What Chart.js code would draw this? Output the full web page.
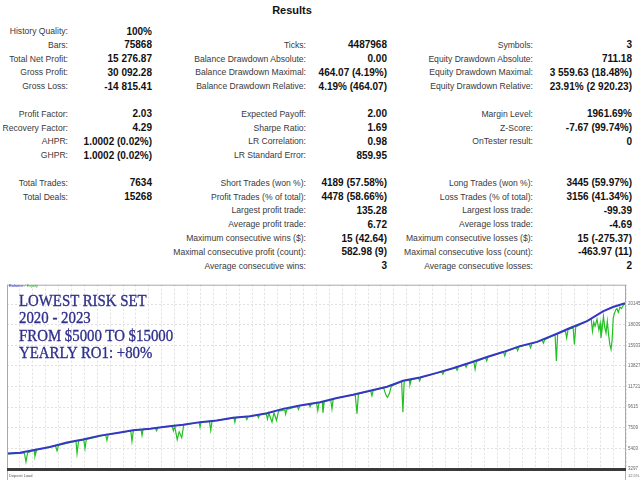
<!DOCTYPE html>
<html>
<head>
<meta charset="utf-8">
<script src="https://cdn.jsdelivr.net/npm/chart.js@4.4.1/dist/chart.umd.min.js"></script>
<style>
  html,body{margin:0;padding:0;background:#fff;}
  #page{position:relative;width:640px;height:480px;overflow:hidden;background:#fff;}
  .lab{position:absolute;font-family:"Liberation Sans",Arial,sans-serif;font-size:8.6px;color:#3a3a3a;white-space:nowrap;line-height:11px;text-align:right;}
  .val{position:absolute;font-family:"Liberation Sans",Arial,sans-serif;font-size:10px;font-weight:bold;color:#111;white-space:nowrap;line-height:11px;text-align:right;}
  #title{position:absolute;left:0;width:584px;top:4px;text-align:center;font-family:"Liberation Sans",Arial,sans-serif;font-weight:bold;font-size:11px;color:#111;}
  #chartBox{position:absolute;left:0;top:280px;width:640px;height:200px;}
  .ov{position:absolute;left:19px;font-family:"Liberation Serif","Times New Roman",serif;font-size:16.5px;color:#30308c;white-space:nowrap;line-height:16.5px;transform:scaleX(0.9);transform-origin:left top;-webkit-text-stroke:0.35px #30308c;}
  #legend{position:absolute;left:9px;top:283px;font-family:"Liberation Sans",Arial,sans-serif;font-size:4px;line-height:5px;white-space:nowrap;}
  #dep{position:absolute;left:9px;top:473px;font-family:"Liberation Sans",Arial,sans-serif;font-size:4px;line-height:5px;color:#555;white-space:nowrap;}
</style>
</head>
<body>
<div id="page">
  <div id="title">Results</div>
  <div id="chartBox"><canvas id="c" width="640" height="200"></canvas></div>
  <div id="legend"><span style="color:#3232c8">Balance</span><span style="color:#888"> / </span><span style="color:#1fb81f">Equity</span></div>
  <div id="dep">Deposit Load</div>
</div>
<script>
// ---------- report table ----------
const colARows   = [0,1,2,3,4,6,7,8,9,11,12];
const colALabels = ["History Quality:","Bars:","Total Net Profit:","Gross Profit:","Gross Loss:","Profit Factor:","Recovery Factor:","AHPR:","GHPR:","Total Trades:","Total Deals:"];
const colAValues = ["100%","75868","15 276.87","30 092.28","-14 815.41","2.03","4.29","1.0002 (0.02%)","1.0002 (0.02%)","7634","15268"];

const colBRows   = [1,2,3,4,6,7,8,9,11,12,13,14,15,16,17];
const colBLabels = ["Ticks:","Balance Drawdown Absolute:","Balance Drawdown Maximal:","Balance Drawdown Relative:","Expected Payoff:","Sharpe Ratio:","LR Correlation:","LR Standard Error:","Short Trades (won %):","Profit Trades (% of total):","Largest profit trade:","Average profit trade:","Maximum consecutive wins ($):","Maximal consecutive profit (count):","Average consecutive wins:"];
const colBValues = ["4487968","0.00","464.07 (4.19%)","4.19% (464.07)","2.00","1.69","0.98","859.95","4189 (57.58%)","4478 (58.66%)","135.28","6.72","15 (42.64)","582.98 (9)","3"];

const colCRows   = [1,2,3,4,6,7,8,11,12,13,14,15,16,17];
const colCLabels = ["Symbols:","Equity Drawdown Absolute:","Equity Drawdown Maximal:","Equity Drawdown Relative:","Margin Level:","Z-Score:","OnTester result:","Long Trades (won %):","Loss Trades (% of total):","Largest loss trade:","Average loss trade:","Maximum consecutive losses ($):","Maximal consecutive loss (count):","Average consecutive losses:"];
const colCValues = ["3","711.18","3 559.63 (18.48%)","23.91% (2 920.23)","1961.69%","-7.67 (99.74%)","0","3445 (59.97%)","3156 (41.34%)","-99.39","-4.69","15 (-275.37)","-463.97 (11)","2"];

// ---------- chart data ----------
const balanceMonth = [0,1.0,2.0,3.33,4.65,5.89,7.21,8.53,9.77,11.09,12.41,13.65,14.97,16.28,17.52,18.84,20.16,21.40,22.72,24.27,25.59,26.83,28.15,29.47,30.71,32.02,33.34,34.58,35.90,37.22,38.46,39.78,41.10,42.6,43.66,44.98,46.21,46.99,47.92];
const balanceValue = [4890,4947,5221,5555,5999,6304,6709,6972,7246,7418,7651,7823,8086,8258,8531,8694,8997,9443,9777,10111,10557,10891,11296,11701,12308,12642,13118,13594,14161,14738,15245,15852,16287,17097,17705,18400,19400,19850,20236];

const equityMonth = [0,1.0,1.35,1.47,1.6,2.1,2.17,2.3,3.75,3.88,4.0,5.35,5.43,5.55,5.95,6.05,6.15,7.65,7.75,7.85,9.6,9.69,9.8,10.4,10.47,10.55,11.5,11.6,11.7,12.8,12.9,13.0,13.2,13.35,13.55,13.7,14.9,14.97,15.05,15.7,15.8,15.9,17.6,17.67,17.75,18.5,18.6,18.7,19.4,19.5,19.6,20.1,20.2,20.3,20.55,20.7,20.9,21.05,21.55,21.6,21.7,22.5,22.6,22.7,23.4,23.5,23.6,24.0,24.1,24.2,24.45,24.5,24.6,25.1,25.2,25.3,27.0,27.14,27.25,28.2,28.3,28.4,29.2,29.4,29.5,29.65,29.8,30.6,30.7,30.8,31.2,31.25,31.35,31.9,32.0,32.1,33.7,33.8,33.9,34.8,34.9,35.0,35.5,35.6,35.7,36.2,36.3,36.4,37.1,37.2,37.3,38.5,38.6,38.7,39.5,39.6,39.7,40.5,40.6,40.7,41.5,41.6,41.7,42.5,42.6,42.7,43.3,43.4,43.5,43.9,44.0,44.1,45.3,45.4,45.5,45.6,45.75,45.9,46.0,46.06,46.15,46.25,46.35,46.45,46.55,46.65,46.75,46.84,46.92,47.01,47.1,47.22,47.3,47.4,47.53,47.65,47.8,47.92];
const equityValue = [4850,4900,4950,4036,4960,5200,4613,5250,5690,5150,5740,6130,4887,6170,6280,5393,6310,6780,6233,6820,7190,6132,7240,7310,6740,7330,7470,7200,7510,7670,7200,7690,6304,7100,6500,7800,8050,7580,8090,8160,7246,8190,8520,8086,8550,8640,8350,8670,8820,8550,8860,8960,8400,9000,8100,9050,8258,9200,9340,8900,9380,9700,9400,9760,9920,9650,9950,10040,9271,10090,10110,9038,10170,10400,9443,10480,10920,8937,10960,11290,10789,11330,11600,10800,10617,11000,11760,12250,9099,12330,12380,11900,12420,12600,12308,12660,13240,13000,13290,13680,13400,13740,13970,13700,14060,14240,13493,14300,14680,14333,14760,15250,14840,15300,15700,15400,15780,16050,15700,16100,16450,16150,16520,17050,14333,17120,17420,16692,17520,17740,16024,17800,18660,17371,18300,17900,18600,17500,18200,16692,17600,18900,17800,17200,18400,17000,16000,15518,16400,18717,19200,19598,19700,19300,19850,19700,20050,20150];

const yTickValues = [3297,5403,7509,9615,11721,13827,15933,18039,20145];
const yMin = 3297, yMax = 22130;

const overlayLines = ["LOWEST RISK SET","2020 - 2023","FROM $5000 TO $15000","YEARLY RO1: +80%"];

// ---------- build table ----------
const page = document.getElementById('page');
function rowTop(i){ return 31.5 + 13.8*i - 5.5; }
function addCol(rows, labels, values, labRight, valRight){
  rows.forEach((r,k)=>{
    const l = document.createElement('div');
    l.className='lab'; l.textContent=labels[k];
    l.style.right=(640-labRight)+'px'; l.style.top=rowTop(r)+'px';
    page.appendChild(l);
    const v = document.createElement('div');
    v.className='val'; v.textContent=values[k];
    v.style.right=(640-valRight)+'px'; v.style.top=(rowTop(r)-0.5)+'px';
    page.appendChild(v);
  });
}
addCol(colARows,colALabels,colAValues,68,152);
addCol(colBRows,colBLabels,colBValues,306,387);
addCol(colCRows,colCLabels,colCValues,533,632);

overlayLines.forEach((t,i)=>{
  const d=document.createElement('div');
  d.className='ov'; d.textContent=t;
  d.style.top=(306.5 + 17.5*i - 13.6)+'px';
  page.appendChild(d);
});

// ---------- chart ----------
const framePlugin = {
  id:'frame',
  afterDraw(chart){
    const {ctx, chartArea:a} = chart;
    ctx.save();
    ctx.strokeStyle='#a8a8a8'; ctx.lineWidth=1;
    ctx.strokeRect(a.left+0.5, a.top+0.5, a.right-a.left-1, a.bottom-a.top);
    ctx.fillStyle='#3a3a3a';
    ctx.fillRect(a.left, a.bottom-1, a.right-a.left, 3);
    ctx.strokeStyle='#b0b0b0';
    ctx.beginPath();
    ctx.moveTo(a.left+0.5, a.bottom+2); ctx.lineTo(a.left+0.5, 200);
    ctx.moveTo(a.right-0.5, a.bottom+2); ctx.lineTo(a.right-0.5, 200);
    ctx.stroke();
    ctx.fillStyle='#666'; ctx.font='4px "Liberation Sans", Arial';
    ctx.fillText('12.5%', a.right+2, a.bottom+8);
    ctx.restore();
  }
};

new Chart(document.getElementById('c'), {
  type:'line',
  data:{
    datasets:[
      { label:'Balance', data: balanceMonth.map((m,i)=>({x:m,y:balanceValue[i]})),
        borderColor:'#3636c6', borderWidth:2, pointRadius:0, tension:0, fill:false },
      { label:'Equity', data: equityMonth.map((m,i)=>({x:m,y:equityValue[i]})),
        borderColor:'#22c022', borderWidth:1.2, pointRadius:0, tension:0, fill:false }
    ]
  },
  options:{
    responsive:false, animation:false, maintainAspectRatio:false,
    layout:{padding:{left:7,right:0,top:3,bottom:11}},
    plugins:{legend:{display:false}, tooltip:{enabled:false}},
    scales:{
      x:{ type:'linear', min:0, max:48,
          ticks:{display:false, stepSize:1},
          grid:{color:'#e0e0e0', drawTicks:false, lineWidth:1},
          border:{display:false, dash:[2,2]},
          afterFit(s){ s.height=0; } },
      y:{ type:'linear', position:'right', min:yMin, max:yMax,
          afterBuildTicks(s){ s.ticks = yTickValues.map(v=>({value:v})); },
          ticks:{font:{size:4.5, family:'"Liberation Sans", Arial'}, color:'#666', padding:2,
                 callback:(v)=>String(v)},
          grid:{color:'#e0e0e0', drawTicks:false, lineWidth:1},
          border:{display:false, dash:[2,2]},
          afterFit(s){ s.width=14; } }
    }
  },
  plugins:[framePlugin]
});
</script>
</body>
</html>
